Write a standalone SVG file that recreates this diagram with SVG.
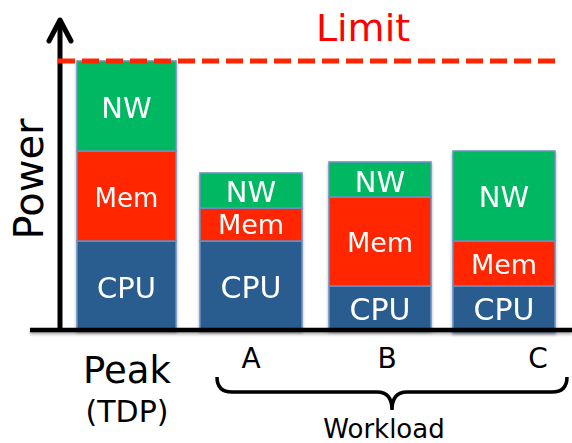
<svg xmlns="http://www.w3.org/2000/svg" width="572" height="443" viewBox="0 0 572 443">
<style>
.nw{fill:#00B862;stroke:#6B8FC4;stroke-width:1.5}
.mem{fill:#FF2500;stroke:#6B8FC4;stroke-width:1.5}
.cpu{fill:#2A5D8F;stroke:#6B8FC4;stroke-width:1.5}
.lbl{fill:#fff;font-family:"DejaVu Sans",Verdana,sans-serif;text-anchor:middle}
.blk{fill:#000;font-family:"DejaVu Sans",Verdana,sans-serif;text-anchor:middle}
</style>
<defs>
<filter id="sh" x="-10%" y="-10%" width="120%" height="130%">
<feDropShadow dx="0" dy="2" stdDeviation="1.5" flood-color="#000" flood-opacity="0.35"/>
</filter>
<filter id="shl" filterUnits="userSpaceOnUse" x="0" y="320" width="572" height="20">
<feDropShadow dx="0" dy="2" stdDeviation="1.5" flood-color="#000" flood-opacity="0.35"/>
</filter>
</defs>
<g id="bar-peak" filter="url(#sh)">
<rect class="cpu" x="77" y="241" width="99" height="89"/>
<rect class="mem" x="77" y="151" width="99" height="90"/>
<rect class="nw" x="77" y="61" width="99" height="90"/>
<text class="lbl" x="126.5" y="118" font-size="29">NW</text>
<text class="lbl" x="126.5" y="207" font-size="26">Mem</text>
<text class="lbl" x="126.5" y="298" font-size="29">CPU</text>
</g>
<g id="bar-a" filter="url(#sh)">
<rect class="cpu" x="200" y="241" width="102" height="89"/>
<rect class="mem" x="200" y="208" width="102" height="33"/>
<rect class="nw" x="200" y="173" width="102" height="35"/>
<text class="lbl" x="251" y="202" font-size="29">NW</text>
<text class="lbl" x="251" y="234" font-size="27">Mem</text>
<text class="lbl" x="251" y="298" font-size="30">CPU</text>
</g>
<g id="bar-b" filter="url(#sh)">
<rect class="cpu" x="329" y="286" width="102" height="44"/>
<rect class="mem" x="329" y="197" width="102" height="89"/>
<rect class="nw" x="329" y="162" width="102" height="35"/>
<text class="lbl" x="380" y="192" font-size="29">NW</text>
<text class="lbl" x="380" y="252" font-size="27">Mem</text>
<text class="lbl" x="380" y="320" font-size="30">CPU</text>
</g>
<g id="bar-c" filter="url(#sh)">
<rect class="cpu" x="453" y="286" width="102" height="46"/>
<rect class="mem" x="453" y="241" width="102" height="45"/>
<rect class="nw" x="453" y="151" width="102" height="90"/>
<text class="lbl" x="504" y="207" font-size="29">NW</text>
<text class="lbl" x="504" y="274" font-size="27">Mem</text>
<text class="lbl" x="504" y="320" font-size="30">CPU</text>
</g>
<g id="axes" fill="none" stroke="#000">
<line x1="30" y1="330" x2="572" y2="330" stroke-width="4.5" filter="url(#shl)"/>
<line x1="60" y1="20" x2="60" y2="330" stroke-width="5"/>
<polyline points="49,41 60,20 71,41" stroke-width="5" stroke-linecap="round" stroke-linejoin="round"/>
</g>
<g id="limit">
<line x1="58" y1="61" x2="560" y2="61" stroke="#FF2500" stroke-width="5" stroke-dasharray="17,7"/>
<text x="363" y="41" font-size="38" fill="#FF0000" font-family="DejaVu Sans,Verdana,sans-serif" text-anchor="middle">Limit</text>
</g>
<g id="brace">
<path d="M217,377 Q217,392 232,392 L377,392 Q392,392 392,410 Q392,392 407,392 L552,392 Q567,392 567,377" fill="none" stroke="#000" stroke-width="3.5"/>
</g>
<g id="labels">
<text class="blk" transform="translate(43,179) rotate(-90)" font-size="40">Power</text>
<text class="blk" x="127" y="383" font-size="37">Peak</text>
<text class="blk" x="127" y="422" font-size="30">(TDP)</text>
<text class="blk" x="251" y="368" font-size="28">A</text>
<text class="blk" x="387" y="368" font-size="28">B</text>
<text class="blk" x="538" y="368" font-size="28">C</text>
<text class="blk" x="384" y="438" font-size="26">Workload</text>
</g>
</svg>
